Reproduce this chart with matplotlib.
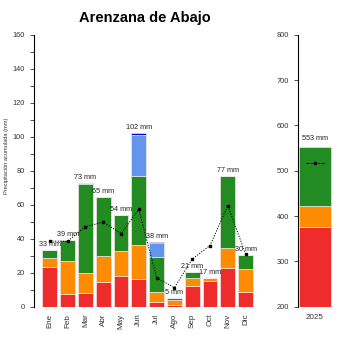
import matplotlib
matplotlib.use("Agg")
import matplotlib.pyplot as plt
import numpy as np

plt.rcParams['font.family'] = ['Liberation Sans', 'DejaVu Sans']

months = ["Ene", "Feb", "Mar", "Abr", "May", "Jun", "Jul", "Ago", "Sep", "Oct", "Nov", "Dic"]
red = [23.5, 7.5, 7.8, 14.7, 18.0, 16.1, 3.0, 1.0, 12.4, 15.3, 23.0, 8.8]
orange = [5.3, 19.5, 12.2, 15.1, 14.6, 20.2, 5.6, 3.0, 4.6, 1.7, 11.7, 13.2]
green = [4.5, 12.0, 52.2, 34.9, 21.4, 40.7, 20.8, 1.3, 3.6, 0.0, 42.3, 8.4]
lightblue = [0, 0, 0.6, 0, 0, 24.0, 7.9, 0, 0, 0, 0, 0]
darkblue = [0, 0, 0, 0, 0, 1.2, 0.7, 0, 0, 0, 0, 0]
totals = [33, 39, 73, 65, 54, 102, 38, 5, 21, 17, 77, 30]
mean_line = [38.6, 38.5, 47.0, 49.8, 43.0, 57.3, 17.0, 11.2, 28.0, 36.0, 59.4, 31.0]

year_label = ["2025"]
year_red = [375]
year_orange = [47]
year_green = [131]
year_total = [553]
year_mean = [516]

C_RED = "#EE2C2C"
C_OR = "#FF8C00"
C_GR = "#228B22"
C_LB = "#6495ED"
C_DB = "#0000CD"
EDGE = "#f2e6e6"
TXT = "#333333"

W, H = 350, 350
fig = plt.figure(figsize=(3.5, 3.5), dpi=100)

def px(l, t, r, b):
    return [l / W, 1 - b / H, (r - l) / W, (b - t) / H]

ax = fig.add_axes(px(34, 34.7, 256, 306.7))
x = np.arange(len(months))
bw = 0.83
bottom = np.zeros(len(months))
for vals, col in [(red, C_RED), (orange, C_OR), (green, C_GR), (lightblue, C_LB), (darkblue, C_DB)]:
    ax.bar(x, vals, bw, bottom=bottom, color=col, edgecolor=EDGE, linewidth=0.5)
    bottom = bottom + np.array(vals)
for xi, top, t in zip(x, bottom, totals):
    ax.text(xi, top + 1.2, f"{t} mm", ha="center", va="bottom", fontsize=5.2, color="#222222")
ax.plot(x, mean_line, color="black", linestyle=(0, (1.2, 1.5)), linewidth=0.7,
        marker="s", markersize=1.6)
ax.set_xlim(-0.888, 11.584)
ax.set_ylim(0, 160)
ax.set_yticks(np.arange(0, 161, 20))
ax.set_yticks(np.arange(10, 160, 20), minor=True)
ax.tick_params(axis="y", which="both", length=3, width=0.6, labelsize=5.3, pad=3.5,
               colors=TXT)
ax.set_xticks(x)
ax.set_xticklabels(months, rotation=90, fontsize=5.8)
ax.tick_params(axis="x", length=0, pad=5, colors=TXT)
for s in ["top", "right", "bottom"]:
    ax.spines[s].set_visible(False)
ax.spines["left"].set_linewidth(0.8)
ax.spines["left"].set_bounds(0, 160)
ax.patch.set_alpha(0)

fig.text(7 / W, 1 - 156 / H, "Precipitación acumulada (mm)", rotation=90,
         ha="center", va="center", fontsize=4.1, color=TXT)
fig.text(145 / W, 1 - 18 / H, "Arenzana de Abajo", ha="center", va="center",
         fontsize=10.5, fontweight="bold")

ax2 = fig.add_axes(px(298, 34.7, 338, 306.7))
xb = np.arange(len(year_label))
b2 = np.zeros(1)
for vals, col in [(year_red, C_RED), (year_orange, C_OR), (year_green, C_GR)]:
    ax2.bar(xb, vals, 1.0, bottom=b2, color=col, edgecolor=EDGE, linewidth=0.5)
    b2 = b2 + np.array(vals)
ax2.text(0, b2[0] + 10, f"{year_total[0]} mm", ha="center", va="bottom", fontsize=5.2, color="#222222")
ax2.plot([-0.28, 0.28], [year_mean[0]] * 2, color="black", linestyle=(0, (2.5, 1.5)), linewidth=0.7)
ax2.plot([0], year_mean, color="black", marker="s", markersize=1.6, linestyle="none")
ax2.set_xlim(-0.53, 0.72)
ax2.set_ylim(200, 800)
ax2.set_yticks(np.arange(200, 801, 100))
ax2.tick_params(axis="y", length=3, width=0.6, labelsize=5.3, pad=3.5, colors=TXT)
ax2.set_xticks(xb)
ax2.set_xticklabels(year_label, fontsize=5.8)
ax2.tick_params(axis="x", length=0, pad=5, colors=TXT)
for s in ["top", "right", "bottom"]:
    ax2.spines[s].set_visible(False)
ax2.spines["left"].set_linewidth(0.8)
ax2.patch.set_alpha(0)

fig.savefig("out.png", dpi=100)
